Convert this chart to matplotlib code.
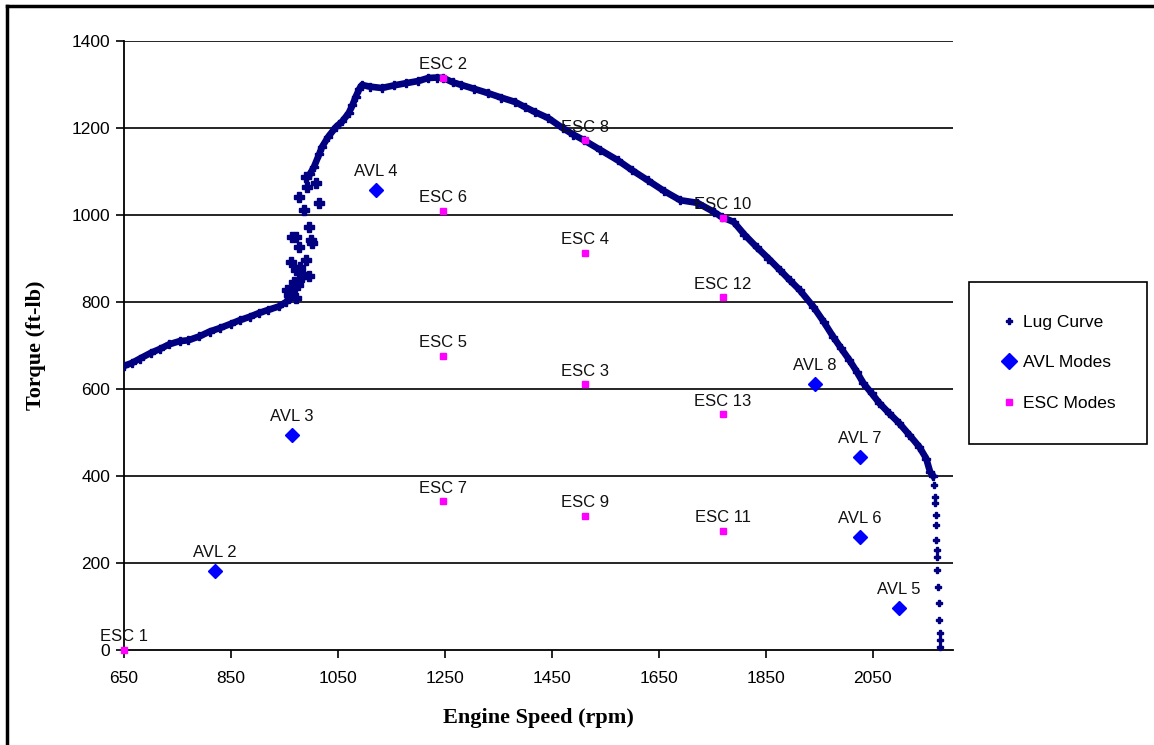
import matplotlib
matplotlib.use("Agg")
import matplotlib.pyplot as plt
from matplotlib.lines import Line2D

# lug curve - continuous band (rpm, torque)
lug_rpm = [650, 665, 680, 700, 717, 735, 754, 770, 791, 810, 829, 850, 866, 885,
           903, 920, 940, 953, 960]
lug_torque = [653, 660, 670, 683, 692, 703, 710, 712, 721, 732, 740, 750, 758, 766,
              775, 782, 790, 800, 810]

# lug curve - scattered points around 950-1020 rpm
lug_scat_rpm = [955, 964, 972, 962, 983, 990, 972, 964, 977, 1002, 972, 1000, 996,
                977, 987, 1015, 990, 1009, 992, 968, 980, 958, 975, 985, 995]
lug_scat_torque = [828, 828, 809, 892, 857, 897, 874, 949, 926, 936, 949, 942, 972,
                   1041, 1011, 1028, 1087, 1073, 1064, 845, 880, 815, 840, 865, 860]

# lug curve - upper band
lug2_rpm = [998, 1005, 1015, 1020, 1032, 1046, 1058, 1070, 1077, 1083, 1090, 1095,
            1110, 1132, 1155, 1177, 1200, 1219, 1235, 1247, 1265, 1281, 1305, 1331,
            1355, 1381, 1400, 1418, 1443, 1470, 1490, 1510, 1540, 1573, 1600, 1629,
            1660, 1690, 1722, 1753, 1768, 1790, 1810, 1833, 1855, 1876, 1895, 1913,
            1939, 1958, 1976, 1990, 2006, 2020, 2032, 2048, 2062, 2080, 2099, 2118,
            2137, 2150, 2157, 2163]
lug2_torque = [1095, 1110, 1140, 1156, 1180, 1202, 1215, 1234, 1252, 1271, 1290, 1299,
               1295, 1292, 1298, 1303, 1308, 1315, 1316, 1315, 1305, 1299, 1290, 1280,
               1270, 1260, 1248, 1237, 1223, 1200, 1185, 1172, 1150, 1126, 1103, 1080,
               1055, 1034, 1028, 1007, 995, 984, 955, 926, 900, 874, 850, 828,
               789, 755, 720, 695, 667, 640, 614, 590, 568, 545, 522, 495,
               467, 440, 410, 400]

# lug curve - vertical tail, separate dots
lug_tail_rpm = [2165, 2166, 2167, 2168, 2168, 2169, 2170, 2170, 2171, 2172, 2173,
                2174, 2175, 2176, 2176]
lug_tail_torque = [380, 352, 338, 310, 287, 253, 230, 214, 184, 145, 108, 69, 39, 23, 7]

# AVL modes
avl_names = ["AVL 2", "AVL 3", "AVL 4", "AVL 5", "AVL 6", "AVL 7", "AVL 8"]
avl_rpm = [820, 964, 1121, 2099, 2026, 2026, 1942]
avl_torque = [182, 494, 1057, 97, 260, 444, 611]

# ESC modes
esc_names = ["ESC 1", "ESC 2", "ESC 3", "ESC 4", "ESC 5", "ESC 6", "ESC 7",
             "ESC 8", "ESC 9", "ESC 10", "ESC 11", "ESC 12", "ESC 13"]
esc_rpm = [650, 1246, 1512, 1512, 1246, 1246, 1246, 1512, 1512, 1770, 1770, 1770, 1770]
esc_torque = [0, 1315, 611, 913, 676, 1010, 342, 1172, 308, 993, 274, 811, 542]

xticks = [650, 850, 1050, 1250, 1450, 1650, 1850, 2050]
yticks = [0, 200, 400, 600, 800, 1000, 1200, 1400]

navy = "#000080"
lbl_font = "Liberation Sans"

fig = plt.figure(figsize=(11.54, 7.45), dpi=100)
ax = fig.add_axes([124 / 1154, 1 - 650 / 745, (953 - 124) / 1154, (650 - 41) / 745])

# lug curve
ax.plot(lug_rpm, lug_torque, "-", color=navy, lw=4.8, marker="P", ms=6, zorder=3)
ax.plot(lug2_rpm, lug2_torque, "-", color=navy, lw=4.8, marker="P", ms=6, zorder=3)
ax.plot(lug_scat_rpm, lug_scat_torque, "P", color=navy, ms=6.5, zorder=3)
ax.plot(lug_tail_rpm, lug_tail_torque, "P", color=navy, ms=5, zorder=3, clip_on=False)

ax.plot(avl_rpm, avl_torque, "D", color="#0000FF", ms=7.5, zorder=4, clip_on=False)
ax.plot(esc_rpm, esc_torque, "s", color="#FF00FF", ms=5, zorder=4, clip_on=False)

for n, x, y in zip(avl_names, avl_rpm, avl_torque):
    ax.annotate(n, (x, y), xytext=(0, 8), textcoords="offset points", ha="center",
                va="bottom", fontsize=12, family=lbl_font, color="#111111")
for n, x, y in zip(esc_names, esc_rpm, esc_torque):
    ax.annotate(n, (x, y), xytext=(0, 4), textcoords="offset points", ha="center",
                va="bottom", fontsize=12, family=lbl_font, color="#111111")

ax.set_xlim(650, 2200)
ax.set_ylim(0, 1400)
ax.set_xticks(xticks)
ax.set_yticks(yticks)
ax.tick_params(axis="both", direction="out", length=6, width=1.2, labelsize=12.5)
ax.tick_params(axis="x", pad=9)
ax.tick_params(axis="y", pad=4)
for lab in ax.get_xticklabels() + ax.get_yticklabels():
    lab.set_family(lbl_font)

for s in ["top", "right"]:
    ax.spines[s].set_visible(False)
for s in ["left", "bottom"]:
    ax.spines[s].set_linewidth(1.3)
    ax.spines[s].set_color("black")
for t in yticks[1:]:
    ax.axhline(t, color="black", lw=1.2, zorder=1)

ax.set_xlabel("Engine Speed (rpm)", family="Liberation Serif", fontweight="bold",
              fontsize=16, labelpad=16)
ax.set_ylabel("Torque (ft-lb)", family="Liberation Serif", fontweight="bold",
              fontsize=16, labelpad=18)

handles = [
    Line2D([], [], ls="none", marker="P", color=navy, ms=5),
    Line2D([], [], ls="none", marker="D", color="#0000FF", ms=8),
    Line2D([], [], ls="none", marker="s", color="#FF00FF", ms=5),
]
leg = fig.legend(handles, ["Lug Curve", "AVL Modes", "ESC Modes"],
                 loc="upper left", bbox_to_anchor=(969 / 1154, 1 - 282 / 745, 178 / 1154, 0),
                 mode="expand", fancybox=False, edgecolor="black", framealpha=1,
                 prop={"family": lbl_font, "size": 12.5}, borderpad=1.9,
                 labelspacing=1.45, handlelength=0.8, handletextpad=0.4,
                 borderaxespad=0)
leg.get_frame().set_linewidth(1.2)

# outer frame (left and top only are visible in the source)
fig.add_artist(Line2D([7 / 1154, 7 / 1154], [0, 1 - 6 / 745], color="black", lw=2.5,
                      transform=fig.transFigure))
fig.add_artist(Line2D([7 / 1154, 1], [1 - 6 / 745, 1 - 6 / 745], color="black", lw=2.5,
                      transform=fig.transFigure))

fig.savefig("out.png", dpi=100)
